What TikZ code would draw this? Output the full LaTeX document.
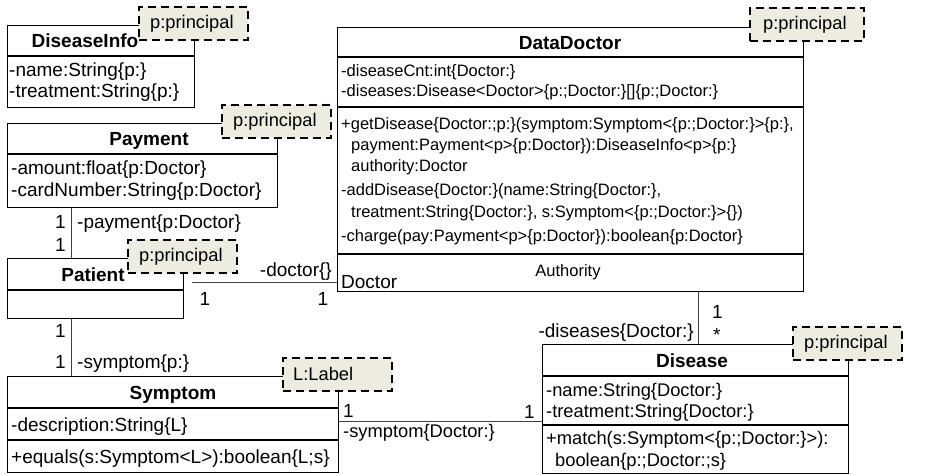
\documentclass[tikz,border=0pt]{standalone}
\usepackage{fontspec}
\setmainfont{Liberation Sans}
\definecolor{tplfill}{RGB}{236,236,224}
\begin{document}
\begin{tikzpicture}[x=1pt,y=-1pt,
  classbox/.style={draw=black, line width=1.4pt, anchor=north west, inner sep=0pt},
  sepline/.style={draw=black, line width=1.4pt},
  tplbox/.style={draw=black, line width=1.8pt, dash pattern=on 8pt off 5pt, fill=tplfill, inner sep=0pt, minimum width=109pt, minimum height=33pt},
  conn/.style={draw=black!75, line width=1pt},
  fbig/.style={font=\fontsize{19}{22}\selectfont},
  fdd/.style={font=\fontsize{16.5}{19}\selectfont},
  fdis/.style={font=\fontsize{18.3}{21}\selectfont},
  txt/.style={anchor=base west, inner sep=0pt, fbig},
  ctxt/.style={anchor=base, inner sep=0pt, fbig},
  rtxt/.style={anchor=base east, inner sep=0pt, fbig},
  htxt/.style={anchor=base, inner sep=0pt, font=\fontsize{19}{22}\selectfont\bfseries},
  tpltxt/.style={anchor=west, inner sep=0pt, fdis},
]
\useasboundingbox (0,0) rectangle (929,474);

% ---------- class boxes ----------
\node[classbox, minimum width=187pt, minimum height=82pt] (dinfo) at (7,25) {};
\node[classbox, minimum width=270pt, minimum height=84pt] (payment) at (7,123) {};
\node[classbox, minimum width=466pt, minimum height=264pt] (ddoc) at (337,27) {};
\node[classbox, minimum width=176pt, minimum height=60pt] (patient) at (7,258) {};
\node[classbox, minimum width=331pt, minimum height=96pt] (symptom) at (7,376) {};
\node[classbox, minimum width=306pt, minimum height=129pt] (disease) at (542,344) {};

% compartment separators
\draw[sepline] (dinfo.west |- 0,56) -- (dinfo.east |- 0,56);
\draw[sepline] (payment.west |- 0,154) -- (payment.east |- 0,154);
\draw[sepline] (ddoc.west |- 0,57) -- (ddoc.east |- 0,57);
\draw[sepline] (ddoc.west |- 0,107) -- (ddoc.east |- 0,107);
\draw[sepline] (ddoc.west |- 0,254) -- (ddoc.east |- 0,254);
\draw[sepline] (patient.west |- 0,290) -- (patient.east |- 0,290);
\draw[sepline] (symptom.west |- 0,408) -- (symptom.east |- 0,408);
\draw[sepline] (symptom.west |- 0,440) -- (symptom.east |- 0,440);
\draw[sepline] (disease.west |- 0,376) -- (disease.east |- 0,376);
\draw[sepline] (disease.west |- 0,425) -- (disease.east |- 0,425);

% ---------- connectors ----------
\coordinate (vx) at (71,0);
\coordinate (pdStart) at (192,282);
\coordinate (ddx) at (698,0);
\coordinate (sdy) at (0,421);
\draw[conn] (payment.south -| vx) -- (patient.north -| vx);
\draw[conn] (patient.south -| vx) -- (symptom.north -| vx);
\draw[conn] (pdStart) -- (ddoc.west |- pdStart);
\draw[conn] (ddoc.south -| ddx) -- (disease.north -| ddx);
\draw[conn] (symptom.east |- sdy) -- (disease.west |- sdy);

% ---------- template boxes ----------
\node[tplbox, anchor=north west] (dinfoT) at (138,6) {};
\node[tplbox, anchor=north west] (paymentT) at (221,104) {};
\node[tplbox, anchor=north west, minimum width=114pt] (ddocT) at (749,7) {};
\node[tplbox, anchor=north west] (patientT) at (127,239) {};
\node[tplbox, anchor=north west] (symptomT) at (282,357) {};
\node[tplbox, anchor=north west] (diseaseT) at (792,326) {};
\node[tpltxt] at ([xshift=12pt]dinfoT.west) {p:principal};
\node[tpltxt] at ([xshift=12pt]paymentT.west) {p:principal};
\node[tpltxt] at ([xshift=14pt]ddocT.west) {p:principal};
\node[tpltxt] at ([xshift=12pt]patientT.west) {p:principal};
\node[tpltxt] at ([xshift=11pt]symptomT.west) {L:Label};
\node[tpltxt] at ([xshift=12pt]diseaseT.west) {p:principal};

% ---------- DiseaseInfo ----------
\node[htxt] at (85,47) {DiseaseInfo};
\node[txt] at (9,76) {-name:String\{p:\}};
\node[txt] at (9,97) {-treatment:String\{p:\}};

% ---------- Payment ----------
\node[htxt] at (149,145) {Payment};
\node[txt] at (11,174) {-amount:float\{p:Doctor\}};
\node[txt] at (11,196) {-cardNumber:String\{p:Doctor\}};

% ---------- DataDoctor ----------
\node[htxt] at (570,49) {DataDoctor};
\node[txt, fdd] at (341,76) {-diseaseCnt:int\{Doctor:\}};
\node[txt, fdd] at (341,96) {-diseases:Disease<Doctor>\{p:;Doctor:\}[]\{p:;Doctor:\}};
\node[txt, fdd] at (341,129) {+getDisease\{Doctor:;p:\}(symptom:Symptom<\{p:;Doctor:\}>\{p:\},};
\node[txt, fdd] at (351,150) {payment:Payment<p>\{p:Doctor\}):DiseaseInfo<p>\{p:\}};
\node[txt, fdd] at (351,171) {authority:Doctor};
\node[txt, fdd] at (341,195) {-addDisease\{Doctor:\}(name:String\{Doctor:\},};
\node[txt, fdd] at (351,217) {treatment:String\{Doctor:\}, s:Symptom<\{p:;Doctor:\}>\{\})};
\node[txt, fdd] at (341,241) {-charge(pay:Payment<p>\{p:Doctor\}):boolean\{p:Doctor\}};
\node[ctxt, fdd] at (568,276) {Authority};
\node[txt] at (341,288) {Doctor};

% ---------- Patient ----------
\node[htxt] at (93,281) {Patient};

% ---------- Symptom ----------
\node[htxt] at (173,399) {Symptom};
\node[txt] at (11,431) {-description:String\{L\}};
\node[txt] at (11,463) {+equals(s:Symptom<L>):boolean\{L;s\}};

% ---------- Disease ----------
\node[htxt] at (692,367) {Disease};
\node[txt, fdis] at (546,396) {-name:String\{Doctor:\}};
\node[txt, fdis] at (546,417) {-treatment:String\{Doctor:\}};
\node[txt, fdis] at (546,444) {+match(s:Symptom<\{p:;Doctor:\}>):};
\node[txt, fdis] at (555,466) {boolean\{p:;Doctor:;s\}};

% ---------- connector labels ----------
\node[rtxt] at (66,228) {1};
\node[rtxt] at (66,251) {1};
\node[txt] at (77,228) {-payment\{p:Doctor\}};
\node[rtxt] at (66,337) {1};
\node[rtxt] at (66,368) {1};
\node[txt] at (77,368) {-symptom\{p:\}};
\node[rtxt] at (332,276) {-doctor\{\}};
\node[ctxt] at (205,305) {1};
\node[ctxt] at (323,305) {1};
\node[txt] at (712,318) {1};
\node[txt] at (713,341) {*};
\node[rtxt] at (694,337) {-diseases\{Doctor:\}};
\node[txt] at (343,417) {1};
\node[txt, fdis] at (343,437) {-symptom\{Doctor:\}};
\node[rtxt] at (535,418) {1};
\end{tikzpicture}
\end{document}
